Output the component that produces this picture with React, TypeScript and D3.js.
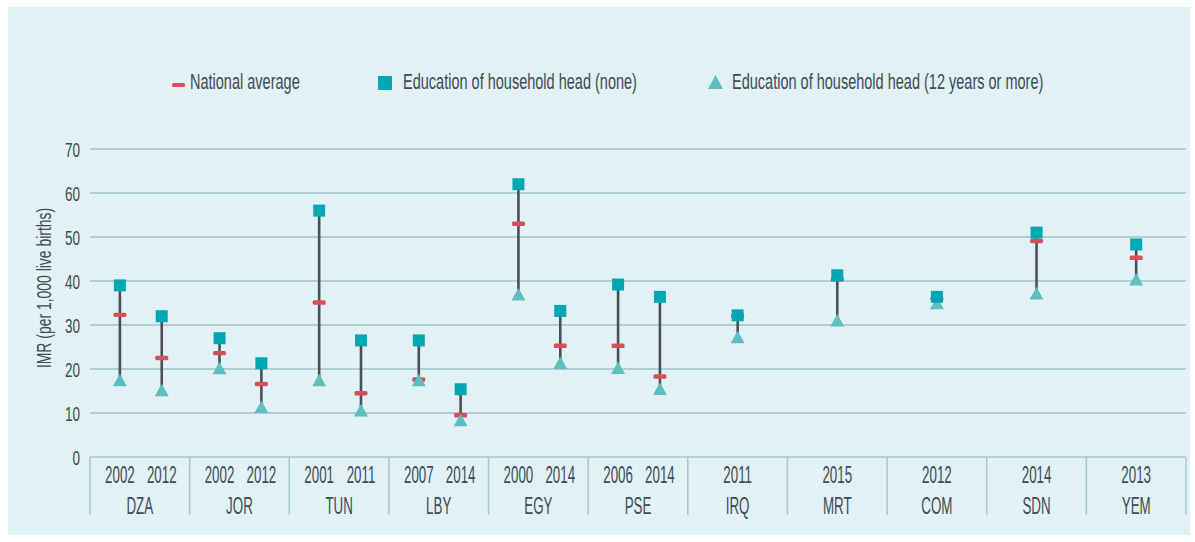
import React from 'react';
import * as d3 from 'd3';

// IMR by education of household head, per survey
const countries = ['DZA', 'JOR', 'TUN', 'LBY', 'EGY', 'PSE', 'IRQ', 'MRT', 'COM', 'SDN', 'YEM'];
const surveyYears = [
  ['2002', '2012'], ['2002', '2012'], ['2001', '2011'], ['2007', '2014'], ['2000', '2014'],
  ['2006', '2014'], ['2011'], ['2015'], ['2012'], ['2014'], ['2013'],
];
const imrNone = [
  [39, 32], [27, 21.3], [56, 26.5], [26.5, 15.4], [62, 33.2],
  [39.2, 36.4], [32.2], [41.3], [36.4], [51], [48.3],
];
const imrNational = [
  [32.3, 22.5], [23.6, 16.6], [35.1, 14.5], [17.6, 9.5], [53, 25.3],
  [25.3, 18.3], [32], [40.4], [36], [49.1], [45.3],
];
const imrTwelvePlus = [
  [17.5, 15.2], [20.2, 11.4], [17.5, 10.6], [17.5, 8.4], [37, 21.4],
  [20.3, 15.5], [27.3], [31.1], [35], [37.2], [40.4],
];
const yTicks = [0, 10, 20, 30, 40, 50, 60, 70];

const W = 1195;
const H = 542;
const FONT = "'Liberation Sans', Arial, sans-serif";
const TEXT = '#3f4b55';
const TEAL = '#00a8b4';
const TRI = '#5fbec0';
const RED = '#d74f5a';
const STEM = '#4a5056';

// condensed text: the source typeface is very narrow
function Label({ x, y, size, sx, anchor = 'middle', rotate = false, children }: any) {
  return (
    <text
      transform={`translate(${x},${y})${rotate ? ' rotate(-90)' : ''} scale(${sx},1)`}
      textAnchor={anchor}
      fontFamily={FONT}
      fontSize={size}
      fill={TEXT}
    >
      {children}
    </text>
  );
}

const tri = (cx: number, cy: number, w: number, h: number) =>
  `M${cx},${cy - h / 2}L${cx + w / 2},${cy + h / 2}L${cx - w / 2},${cy + h / 2}Z`;

export default function App() {
  const left = 90;
  const right = 1186;
  const y = d3.scaleLinear().domain([0, 70]).range([457, 149]);
  const x = d3.scaleBand().domain(countries).range([left, right]).padding(0);
  const bw = x.bandwidth();
  const axisBottom = 515;

  const posOf = (ci: number, yi: number) => {
    const years = surveyYears[ci];
    const x0 = x(countries[ci])!;
    if (years.length === 1) return x0 + bw / 2;
    const inner = d3.scalePoint().domain(years).range([x0 + bw * 0.3, x0 + bw * 0.72]);
    return inner(years[yi])!;
  };

  return (
    <svg width={W} height={H} style={{ position: 'absolute', left: 0, top: 0, display: 'block' }}>
      <rect x={0} y={0} width={W} height={H} fill="#fff" />
      <rect x={8} y={7} width={1182} height={528} fill="#e1f1f6" />

      {/* legend */}
      <rect x={172} y={83} width={13} height={4} rx={1.5} fill={RED} />
      <Label x={190} y={89} size={22} sx={0.66} anchor="start">National average</Label>
      <rect x={378} y={76} width={14} height={14} fill={TEAL} />
      <Label x={403} y={89} size={22} sx={0.66} anchor="start">Education of household head (none)</Label>
      <path d={tri(715.5, 82, 15, 14)} fill={TRI} />
      <Label x={732} y={89} size={22} sx={0.66} anchor="start">Education of household head (12 years or more)</Label>

      {/* grid + y ticks */}
      {yTicks.map((t) => (
        <g key={t}>
          {t > 0 && (
            <line x1={left} x2={right} y1={y(t)} y2={y(t)} stroke="#a3bfca" strokeWidth={1.5} />
          )}
          <Label x={80} y={y(t) + 7.5} size={20.5} sx={0.66} anchor="end">{t}</Label>
        </g>
      ))}
      <Label x={51} y={288} size={20.5} sx={0.68} rotate>IMR (per 1,000 live births)</Label>

      {/* category box */}
      <line x1={left} x2={right} y1={y(0)} y2={y(0)} stroke="#a9c6d1" strokeWidth={1.5} />
      {countries.map((c) => (
        <line key={c} x1={x(c)!} x2={x(c)!} y1={y(0)} y2={axisBottom} stroke="#a9c6d1" strokeWidth={1.5} />
      ))}
      <line x1={right} x2={right} y1={y(0)} y2={axisBottom} stroke="#a9c6d1" strokeWidth={1.5} />
      {countries.map((c, ci) => (
        <g key={c}>
          {surveyYears[ci].map((yr, yi) => (
            <Label key={yr} x={posOf(ci, yi)} y={483} size={23} sx={0.58}>{yr}</Label>
          ))}
          <Label x={x(c)! + bw / 2} y={514} size={23} sx={0.58}>{c}</Label>
        </g>
      ))}

      {/* marks */}
      {countries.map((c, ci) =>
        surveyYears[ci].map((yr, yi) => {
          const px = posOf(ci, yi);
          const hi = y(imrNone[ci][yi]);
          const lo = y(imrTwelvePlus[ci][yi]);
          const nat = y(imrNational[ci][yi]);
          return (
            <g key={c + yr}>
              <line x1={px} x2={px} y1={hi} y2={lo} stroke={STEM} strokeWidth={2.6} />
              <rect x={px - 6.5} y={nat - 2.2} width={13} height={4.4} rx={1.5} fill={RED} />
              <path d={tri(px, lo, 14, 12.5)} fill={TRI} />
              <rect x={px - 6} y={hi - 6} width={12} height={12} fill={TEAL} />
            </g>
          );
        })
      )}
    </svg>
  );
}
